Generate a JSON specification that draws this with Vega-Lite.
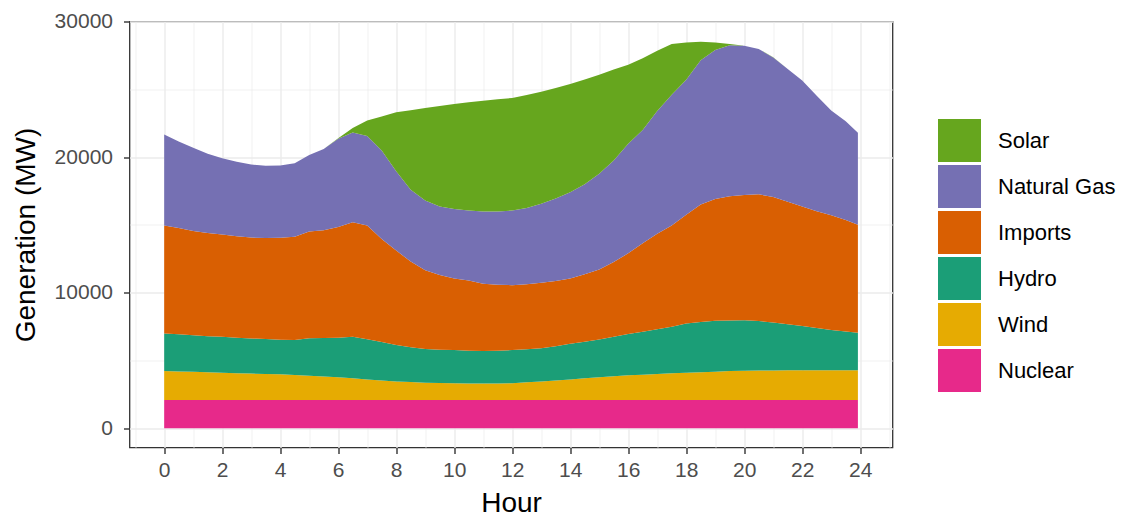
{
  "$schema": "https://vega.github.io/schema/vega-lite/v6.json",
  "width": 763,
  "height": 426,
  "autosize": {"type": "none"},
  "padding": {"left": 129.5, "top": 21.5, "right": 231.5, "bottom": 71.5},
  "background": "white",
  "config": {
    "font": "Liberation Sans",
    "view": {"stroke": "#333333", "strokeWidth": 1.3}
  },
  "datasets": {
    "stackorder": [
      {"source": "Nuclear", "rank": 1},
      {"source": "Wind", "rank": 2},
      {"source": "Hydro", "rank": 3},
      {"source": "Imports", "rank": 4},
      {"source": "Natural Gas", "rank": 5},
      {"source": "Solar", "rank": 6}
    ],
    "gen": [
      {"hour":0,"source":"Nuclear","mw":2080},{"hour":0,"source":"Wind","mw":2140},{"hour":0,"source":"Hydro","mw":2770},{"hour":0,"source":"Imports","mw":7970},{"hour":0,"source":"Natural Gas","mw":6700},{"hour":0,"source":"Solar","mw":0},
      {"hour":0.5,"source":"Nuclear","mw":2080},{"hour":0.5,"source":"Wind","mw":2110},{"hour":0.5,"source":"Hydro","mw":2730},{"hour":0.5,"source":"Imports","mw":7840},{"hour":0.5,"source":"Natural Gas","mw":6390},{"hour":0.5,"source":"Solar","mw":0},
      {"hour":1,"source":"Nuclear","mw":2080},{"hour":1,"source":"Wind","mw":2080},{"hour":1,"source":"Hydro","mw":2690},{"hour":1,"source":"Imports","mw":7700},{"hour":1,"source":"Natural Gas","mw":6130},{"hour":1,"source":"Solar","mw":0},
      {"hour":1.5,"source":"Nuclear","mw":2080},{"hour":1.5,"source":"Wind","mw":2040},{"hour":1.5,"source":"Hydro","mw":2670},{"hour":1.5,"source":"Imports","mw":7610},{"hour":1.5,"source":"Natural Gas","mw":5850},{"hour":1.5,"source":"Solar","mw":0},
      {"hour":2,"source":"Nuclear","mw":2080},{"hour":2,"source":"Wind","mw":2010},{"hour":2,"source":"Hydro","mw":2650},{"hour":2,"source":"Imports","mw":7540},{"hour":2,"source":"Natural Gas","mw":5640},{"hour":2,"source":"Solar","mw":0},
      {"hour":2.5,"source":"Nuclear","mw":2080},{"hour":2.5,"source":"Wind","mw":1980},{"hour":2.5,"source":"Hydro","mw":2620},{"hour":2.5,"source":"Imports","mw":7470},{"hour":2.5,"source":"Natural Gas","mw":5500},{"hour":2.5,"source":"Solar","mw":0},
      {"hour":3,"source":"Nuclear","mw":2080},{"hour":3,"source":"Wind","mw":1950},{"hour":3,"source":"Hydro","mw":2590},{"hour":3,"source":"Imports","mw":7440},{"hour":3,"source":"Natural Gas","mw":5390},{"hour":3,"source":"Solar","mw":0},
      {"hour":3.5,"source":"Nuclear","mw":2080},{"hour":3.5,"source":"Wind","mw":1920},{"hour":3.5,"source":"Hydro","mw":2570},{"hour":3.5,"source":"Imports","mw":7460},{"hour":3.5,"source":"Natural Gas","mw":5320},{"hour":3.5,"source":"Solar","mw":0},
      {"hour":4,"source":"Nuclear","mw":2080},{"hour":4,"source":"Wind","mw":1890},{"hour":4,"source":"Hydro","mw":2550},{"hour":4,"source":"Imports","mw":7530},{"hour":4,"source":"Natural Gas","mw":5330},{"hour":4,"source":"Solar","mw":0},
      {"hour":4.5,"source":"Nuclear","mw":2080},{"hour":4.5,"source":"Wind","mw":1840},{"hour":4.5,"source":"Hydro","mw":2590},{"hour":4.5,"source":"Imports","mw":7610},{"hour":4.5,"source":"Natural Gas","mw":5430},{"hour":4.5,"source":"Solar","mw":0},
      {"hour":5,"source":"Nuclear","mw":2080},{"hour":5,"source":"Wind","mw":1790},{"hour":5,"source":"Hydro","mw":2770},{"hour":5,"source":"Imports","mw":7860},{"hour":5,"source":"Natural Gas","mw":5650},{"hour":5,"source":"Solar","mw":0},
      {"hour":5.5,"source":"Nuclear","mw":2080},{"hour":5.5,"source":"Wind","mw":1740},{"hour":5.5,"source":"Hydro","mw":2830},{"hour":5.5,"source":"Imports","mw":7950},{"hour":5.5,"source":"Natural Gas","mw":6000},{"hour":5.5,"source":"Solar","mw":0},
      {"hour":6,"source":"Nuclear","mw":2080},{"hour":6,"source":"Wind","mw":1680},{"hour":6,"source":"Hydro","mw":2920},{"hour":6,"source":"Imports","mw":8170},{"hour":6,"source":"Natural Gas","mw":6500},{"hour":6,"source":"Solar","mw":30},
      {"hour":6.5,"source":"Nuclear","mw":2080},{"hour":6.5,"source":"Wind","mw":1600},{"hour":6.5,"source":"Hydro","mw":3060},{"hour":6.5,"source":"Imports","mw":8460},{"hour":6.5,"source":"Natural Gas","mw":6620},{"hour":6.5,"source":"Solar","mw":330},
      {"hour":7,"source":"Nuclear","mw":2080},{"hour":7,"source":"Wind","mw":1520},{"hour":7,"source":"Hydro","mw":2960},{"hour":7,"source":"Imports","mw":8390},{"hour":7,"source":"Natural Gas","mw":6600},{"hour":7,"source":"Solar","mw":1140},
      {"hour":7.5,"source":"Nuclear","mw":2080},{"hour":7.5,"source":"Wind","mw":1440},{"hour":7.5,"source":"Hydro","mw":2830},{"hour":7.5,"source":"Imports","mw":7600},{"hour":7.5,"source":"Natural Gas","mw":6530},{"hour":7.5,"source":"Solar","mw":2520},
      {"hour":8,"source":"Nuclear","mw":2080},{"hour":8,"source":"Wind","mw":1360},{"hour":8,"source":"Hydro","mw":2690},{"hour":8,"source":"Imports","mw":6970},{"hour":8,"source":"Natural Gas","mw":5850},{"hour":8,"source":"Solar","mw":4350},
      {"hour":8.5,"source":"Nuclear","mw":2080},{"hour":8.5,"source":"Wind","mw":1320},{"hour":8.5,"source":"Hydro","mw":2570},{"hour":8.5,"source":"Imports","mw":6330},{"hour":8.5,"source":"Natural Gas","mw":5290},{"hour":8.5,"source":"Solar","mw":5860},
      {"hour":9,"source":"Nuclear","mw":2080},{"hour":9,"source":"Wind","mw":1280},{"hour":9,"source":"Hydro","mw":2480},{"hour":9,"source":"Imports","mw":5810},{"hour":9,"source":"Natural Gas","mw":5150},{"hour":9,"source":"Solar","mw":6820},
      {"hour":9.5,"source":"Nuclear","mw":2080},{"hour":9.5,"source":"Wind","mw":1250},{"hour":9.5,"source":"Hydro","mw":2460},{"hour":9.5,"source":"Imports","mw":5510},{"hour":9.5,"source":"Natural Gas","mw":5060},{"hour":9.5,"source":"Solar","mw":7410},
      {"hour":10,"source":"Nuclear","mw":2080},{"hour":10,"source":"Wind","mw":1230},{"hour":10,"source":"Hydro","mw":2450},{"hour":10,"source":"Imports","mw":5290},{"hour":10,"source":"Natural Gas","mw":5120},{"hour":10,"source":"Solar","mw":7750},
      {"hour":10.5,"source":"Nuclear","mw":2080},{"hour":10.5,"source":"Wind","mw":1220},{"hour":10.5,"source":"Hydro","mw":2420},{"hour":10.5,"source":"Imports","mw":5180},{"hour":10.5,"source":"Natural Gas","mw":5150},{"hour":10.5,"source":"Solar","mw":7990},
      {"hour":11,"source":"Nuclear","mw":2080},{"hour":11,"source":"Wind","mw":1220},{"hour":11,"source":"Hydro","mw":2390},{"hour":11,"source":"Imports","mw":4960},{"hour":11,"source":"Natural Gas","mw":5340},{"hour":11,"source":"Solar","mw":8170},
      {"hour":11.5,"source":"Nuclear","mw":2080},{"hour":11.5,"source":"Wind","mw":1220},{"hour":11.5,"source":"Hydro","mw":2420},{"hour":11.5,"source":"Imports","mw":4860},{"hour":11.5,"source":"Natural Gas","mw":5410},{"hour":11.5,"source":"Solar","mw":8270},
      {"hour":12,"source":"Nuclear","mw":2080},{"hour":12,"source":"Wind","mw":1230},{"hour":12,"source":"Hydro","mw":2450},{"hour":12,"source":"Imports","mw":4790},{"hour":12,"source":"Natural Gas","mw":5500},{"hour":12,"source":"Solar","mw":8310},
      {"hour":12.5,"source":"Nuclear","mw":2080},{"hour":12.5,"source":"Wind","mw":1300},{"hour":12.5,"source":"Hydro","mw":2440},{"hour":12.5,"source":"Imports","mw":4800},{"hour":12.5,"source":"Natural Gas","mw":5630},{"hour":12.5,"source":"Solar","mw":8330},
      {"hour":13,"source":"Nuclear","mw":2080},{"hour":13,"source":"Wind","mw":1370},{"hour":13,"source":"Hydro","mw":2440},{"hour":13,"source":"Imports","mw":4830},{"hour":13,"source":"Natural Gas","mw":5840},{"hour":13,"source":"Solar","mw":8260},
      {"hour":13.5,"source":"Nuclear","mw":2080},{"hour":13.5,"source":"Wind","mw":1440},{"hour":13.5,"source":"Hydro","mw":2530},{"hour":13.5,"source":"Imports","mw":4800},{"hour":13.5,"source":"Natural Gas","mw":6100},{"hour":13.5,"source":"Solar","mw":8150},
      {"hour":14,"source":"Nuclear","mw":2080},{"hour":14,"source":"Wind","mw":1520},{"hour":14,"source":"Hydro","mw":2620},{"hour":14,"source":"Imports","mw":4830},{"hour":14,"source":"Natural Gas","mw":6360},{"hour":14,"source":"Solar","mw":7980},
      {"hour":14.5,"source":"Nuclear","mw":2080},{"hour":14.5,"source":"Wind","mw":1600},{"hour":14.5,"source":"Hydro","mw":2700},{"hour":14.5,"source":"Imports","mw":4970},{"hour":14.5,"source":"Natural Gas","mw":6650},{"hour":14.5,"source":"Solar","mw":7730},
      {"hour":15,"source":"Nuclear","mw":2080},{"hour":15,"source":"Wind","mw":1670},{"hour":15,"source":"Hydro","mw":2800},{"hour":15,"source":"Imports","mw":5150},{"hour":15,"source":"Natural Gas","mw":7070},{"hour":15,"source":"Solar","mw":7310},
      {"hour":15.5,"source":"Nuclear","mw":2080},{"hour":15.5,"source":"Wind","mw":1750},{"hour":15.5,"source":"Hydro","mw":2920},{"hour":15.5,"source":"Imports","mw":5500},{"hour":15.5,"source":"Natural Gas","mw":7500},{"hour":15.5,"source":"Solar","mw":6700},
      {"hour":16,"source":"Nuclear","mw":2080},{"hour":16,"source":"Wind","mw":1820},{"hour":16,"source":"Hydro","mw":3050},{"hour":16,"source":"Imports","mw":5950},{"hour":16,"source":"Natural Gas","mw":8080},{"hour":16,"source":"Solar","mw":5830},
      {"hour":16.5,"source":"Nuclear","mw":2080},{"hour":16.5,"source":"Wind","mw":1870},{"hour":16.5,"source":"Hydro","mw":3170},{"hour":16.5,"source":"Imports","mw":6530},{"hour":16.5,"source":"Natural Gas","mw":8350},{"hour":16.5,"source":"Solar","mw":5280},
      {"hour":17,"source":"Nuclear","mw":2080},{"hour":17,"source":"Wind","mw":1920},{"hour":17,"source":"Hydro","mw":3300},{"hour":17,"source":"Imports","mw":7050},{"hour":17,"source":"Natural Gas","mw":9050},{"hour":17,"source":"Solar","mw":4440},
      {"hour":17.5,"source":"Nuclear","mw":2080},{"hour":17.5,"source":"Wind","mw":1970},{"hour":17.5,"source":"Hydro","mw":3430},{"hour":17.5,"source":"Imports","mw":7470},{"hour":17.5,"source":"Natural Gas","mw":9650},{"hour":17.5,"source":"Solar","mw":3740},
      {"hour":18,"source":"Nuclear","mw":2080},{"hour":18,"source":"Wind","mw":2010},{"hour":18,"source":"Hydro","mw":3640},{"hour":18,"source":"Imports","mw":8020},{"hour":18,"source":"Natural Gas","mw":9950},{"hour":18,"source":"Solar","mw":2750},
      {"hour":18.5,"source":"Nuclear","mw":2080},{"hour":18.5,"source":"Wind","mw":2050},{"hour":18.5,"source":"Hydro","mw":3700},{"hour":18.5,"source":"Imports","mw":8670},{"hour":18.5,"source":"Natural Gas","mw":10650},{"hour":18.5,"source":"Solar","mw":1350},
      {"hour":19,"source":"Nuclear","mw":2080},{"hour":19,"source":"Wind","mw":2090},{"hour":19,"source":"Hydro","mw":3750},{"hour":19,"source":"Imports","mw":8980},{"hour":19,"source":"Natural Gas","mw":11000},{"hour":19,"source":"Solar","mw":550},
      {"hour":19.5,"source":"Nuclear","mw":2080},{"hour":19.5,"source":"Wind","mw":2130},{"hour":19.5,"source":"Hydro","mw":3740},{"hour":19.5,"source":"Imports","mw":9150},{"hour":19.5,"source":"Natural Gas","mw":11140},{"hour":19.5,"source":"Solar","mw":100},
      {"hour":20,"source":"Nuclear","mw":2080},{"hour":20,"source":"Wind","mw":2160},{"hour":20,"source":"Hydro","mw":3730},{"hour":20,"source":"Imports","mw":9230},{"hour":20,"source":"Natural Gas","mw":11010},{"hour":20,"source":"Solar","mw":10},
      {"hour":20.5,"source":"Nuclear","mw":2080},{"hour":20.5,"source":"Wind","mw":2170},{"hour":20.5,"source":"Hydro","mw":3650},{"hour":20.5,"source":"Imports","mw":9350},{"hour":20.5,"source":"Natural Gas","mw":10720},{"hour":20.5,"source":"Solar","mw":10},
      {"hour":21,"source":"Nuclear","mw":2080},{"hour":21,"source":"Wind","mw":2180},{"hour":21,"source":"Hydro","mw":3540},{"hour":21,"source":"Imports","mw":9250},{"hour":21,"source":"Natural Gas","mw":10300},{"hour":21,"source":"Solar","mw":5},
      {"hour":21.5,"source":"Nuclear","mw":2080},{"hour":21.5,"source":"Wind","mw":2185},{"hour":21.5,"source":"Hydro","mw":3405},{"hour":21.5,"source":"Imports","mw":9030},{"hour":21.5,"source":"Natural Gas","mw":9800},{"hour":21.5,"source":"Solar","mw":0},
      {"hour":22,"source":"Nuclear","mw":2080},{"hour":22,"source":"Wind","mw":2190},{"hour":22,"source":"Hydro","mw":3260},{"hour":22,"source":"Imports","mw":8820},{"hour":22,"source":"Natural Gas","mw":9290},{"hour":22,"source":"Solar","mw":0},
      {"hour":22.5,"source":"Nuclear","mw":2080},{"hour":22.5,"source":"Wind","mw":2190},{"hour":22.5,"source":"Hydro","mw":3120},{"hour":22.5,"source":"Imports","mw":8610},{"hour":22.5,"source":"Natural Gas","mw":8530},{"hour":22.5,"source":"Solar","mw":0},
      {"hour":23,"source":"Nuclear","mw":2080},{"hour":23,"source":"Wind","mw":2190},{"hour":23,"source":"Hydro","mw":2970},{"hour":23,"source":"Imports","mw":8460},{"hour":23,"source":"Natural Gas","mw":7730},{"hour":23,"source":"Solar","mw":0},
      {"hour":23.5,"source":"Nuclear","mw":2080},{"hour":23.5,"source":"Wind","mw":2190},{"hour":23.5,"source":"Hydro","mw":2860},{"hour":23.5,"source":"Imports","mw":8220},{"hour":23.5,"source":"Natural Gas","mw":7290},{"hour":23.5,"source":"Solar","mw":0},
      {"hour":23.92,"source":"Nuclear","mw":2080},{"hour":23.92,"source":"Wind","mw":2190},{"hour":23.92,"source":"Hydro","mw":2770},{"hour":23.92,"source":"Imports","mw":7970},{"hour":23.92,"source":"Natural Gas","mw":6790},{"hour":23.92,"source":"Solar","mw":0}
    ]
  },
  "data": {"name": "gen"},
  "transform": [
    {"lookup": "source", "from": {"data": {"name": "stackorder"}, "key": "source", "fields": ["rank"]}}
  ],
  "mark": {"type": "area", "interpolate": "linear", "opacity": 1},
  "encoding": {
    "x": {
      "field": "hour",
      "type": "quantitative",
      "scale": {"domain": [-1.196, 25.113], "nice": false, "zero": false},
      "axis": {
        "title": "Hour",
        "titleFontSize": 28,
        "titleFontWeight": "normal",
        "titleColor": "#000000",
        "titlePadding": 9,
        "values": [-1,0,1,2,3,4,5,6,7,8,9,10,11,12,13,14,15,16,17,18,19,20,21,22,23,24,25],
        "labelExpr": "(datum.value % 2 === 0 && datum.value >= 0 && datum.value <= 24) ? datum.label : ''",
        "labelFontSize": 21,
        "labelColor": "#4D4D4D",
        "labelPadding": 6,
        "labelOverlap": false,
        "labelFlush": false,
        "domain": false,
        "tickColor": "#333333",
        "tickWidth": 1.4,
        "tickSize": 6,
        "tickOpacity": {"condition": {"test": "datum.value % 2 !== 0 || datum.value < 0 || datum.value > 24", "value": 0}, "value": 1},
        "grid": true,
        "gridColor": "#EBEBEB",
        "gridWidth": {"condition": {"test": "datum.value % 2 !== 0", "value": 0.7}, "value": 1.4}
      }
    },
    "y": {
      "field": "mw",
      "type": "quantitative",
      "stack": "zero",
      "scale": {"domain": [-1425, 30000], "nice": false, "zero": false},
      "axis": {
        "title": "Generation (MW)",
        "titleFontSize": 28,
        "titleFontWeight": "normal",
        "titleColor": "#000000",
        "titlePadding": 14,
        "values": [0,5000,10000,15000,20000,25000,30000],
        "labelExpr": "datum.value % 10000 === 0 ? format(datum.value, 'd') : ''",
        "labelFontSize": 21,
        "labelColor": "#4D4D4D",
        "labelPadding": 11,
        "labelOverlap": false,
        "domain": false,
        "tickColor": "#333333",
        "tickWidth": 1.4,
        "tickSize": 6,
        "tickOpacity": {"condition": {"test": "datum.value % 10000 !== 0", "value": 0}, "value": 1},
        "grid": true,
        "gridColor": "#EBEBEB",
        "gridWidth": {"condition": {"test": "datum.value % 10000 !== 0", "value": 0.7}, "value": 1.4}
      }
    },
    "order": {"field": "rank", "type": "quantitative", "sort": "ascending"},
    "color": {
      "field": "source",
      "type": "nominal",
      "sort": ["Solar", "Natural Gas", "Imports", "Hydro", "Wind", "Nuclear"],
      "scale": {
        "domain": ["Solar", "Natural Gas", "Imports", "Hydro", "Wind", "Nuclear"],
        "range": ["#66A61E", "#7570B3", "#D95F02", "#1B9E77", "#E6AB02", "#E7298A"]
      },
      "legend": {
        "title": null,
        "orient": "none",
        "legendX": 808.5,
        "legendY": 97.5,
        "padding": 0,
        "symbolType": "square",
        "symbolSize": 1849,
        "symbolStrokeWidth": 0,
        "symbolOpacity": 1,
        "rowPadding": 3,
        "labelFontSize": 22,
        "labelColor": "#000000",
        "labelOffset": 17,
        "labelLimit": 300
      }
    }
  }
}
